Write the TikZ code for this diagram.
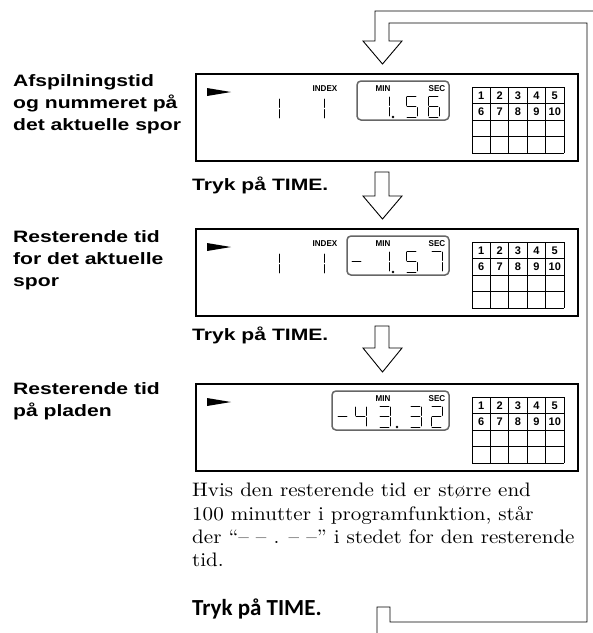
\documentclass[tikz,border=0pt]{standalone}
\usepackage{fontspec}
\newfontfamily\labelfont[FakeStretch=1.28]{Liberation Sans Bold}
\newfontfamily\tagfont[FakeStretch=0.95]{Liberation Sans Bold}
\newfontfamily\cellfont{Liberation Sans Bold}
\newfontfamily\tryfont{Carlito Bold}
\newfontfamily\notefont[Extension=.otf, Ligatures=TeX, FakeStretch=1.08]{lmroman10-regular}
\usetikzlibrary{positioning}

% segments of one LCD digit (local units, y up)
\tikzset{
  segline/.style={line width=1pt, line cap=round},
  seg a/.pic={\draw[segline] (1.2,21) -- (9.8,21);},
  seg b/.pic={\draw[segline] (11,19.8) -- (11,11.7);},
  seg c/.pic={\draw[segline] (11,9.3) -- (11,1.2);},
  seg d/.pic={\draw[segline] (1.2,0) -- (9.8,0);},
  seg e/.pic={\draw[segline] (0,9.3) -- (0,1.2);},
  seg f/.pic={\draw[segline] (0,19.8) -- (0,11.7);},
  seg g/.pic={\draw[segline] (1.2,10.5) -- (9.8,10.5);}
}

% [yscale]{x}{bottom y}{segments}
\newcommand{\lcddigit}[4][1]{%
  \begin{scope}[shift={(#2,#3)}, x=1pt, y=1pt, yscale=#1, xslant=.18]
    \foreach \s in {#4} {\pic {seg \s};}
  \end{scope}}

% hollow down arrow: {shaft top}{head top}{tip}
\newcommand{\hollowarrow}[3]{%
  \draw[arrowline] (389,#1) -- (375,#1) -- (375,#2) -- (363,#2) -- (382.5,#3)
    -- (402,#2) -- (389,#2) -- cycle;}

\begin{document}
\begin{tikzpicture}[x=1pt, y=-1pt,
    lcdbox/.style={draw, line width=1.6pt, minimum width=382pt, minimum height=87pt,
      inner sep=0pt, anchor=north west},
    window/.style={draw=black!60, line width=1.5pt, rounded corners=4pt},
    gridline/.style={line width=0.8pt},
    arrowline/.style={line width=0.9pt, line join=miter},
    cell/.style={font=\cellfont\fontsize{11}{11}\selectfont, inner sep=0pt},
    tag/.style={font=\tagfont\fontsize{8.5}{8.5}\selectfont, inner sep=0pt},
    caption/.style={font=\labelfont\fontsize{16.5}{22}\selectfont, align=left,
      anchor=north west, inner sep=0pt},
    note/.style={font=\notefont\fontsize{19.5}{23.3}\selectfont, align=left,
      anchor=north west, inner sep=0pt}
]
\useasboundingbox (0,0) rectangle (593,633);

% the three displays
\foreach \t/\n in {73/1, 228/2, 383/3} {
  \node[lcdbox] (disp\n) at (195,\t) {};
  \fill (207,\t+15) -- (231,\t+19) -- (207,\t+23) -- cycle;
  \node[tag] (min\n) at (383,\t+16) {MIN};
  \node[tag] (sec\n) at (437,\t+16) {SEC};
  % track grid
  \foreach \i in {0,...,5}
    \draw[gridline] (472+18.4*\i,\t+14) -- (472+18.4*\i,\t+80);
  \foreach \j in {0,...,4}
    \draw[gridline] (472,\t+14+16.5*\j) -- (564,\t+14+16.5*\j);
  \foreach \k in {1,...,5} {
    \node[cell] (top\n-\k) at (462.8+18.4*\k,\t+22.5) {\k};
    \node[cell] (bot\n-\k) at (462.8+18.4*\k,\t+39) {\the\numexpr\k+5\relax};
  }
}

% display 1
\node[tag] (index1) at (325,89) {INDEX};
\lcddigit[1.3]{268}{119}{b,c}
\lcddigit[0.86]{313}{119}{b,c}
\draw[window] (357,81) rectangle (449,120);
\lcddigit{378}{117}{b,c}
\fill (393,117) circle (1.3);
\lcddigit{406}{117}{a,f,g,c,d}
\lcddigit{428}{117}{a,f,g,e,c,d}

% display 2
\node[tag] (index2) at (325,244) {INDEX};
\lcddigit[1.3]{268}{274}{b,c}
\lcddigit[0.86]{313}{274}{b,c}
\draw[window] (347,236) rectangle (449,275);
\lcddigit{351}{272}{g}
\lcddigit{378}{272}{b,c}
\fill (393,272) circle (1.3);
\lcddigit{406}{272}{a,f,g,c,d}
\lcddigit{431}{272}{a,b,c}

% display 3
\draw[window] (332,391) rectangle (449,430);
\lcddigit{337}{427}{g}
\lcddigit{355}{427}{f,g,b,c}
\lcddigit{379}{427}{a,b,g,c,d}
\fill (397,427) circle (1.3);
\lcddigit{410}{427}{a,b,g,c,d}
\lcddigit{431}{427}{a,b,g,e,d}

% labels
\node[caption] (play) at (13,74) {Afspilningstid\\og nummeret på\\det aktuelle spor};
\node[caption] (remtrack) at (13,230) {Resterende tid\\for det aktuelle\\spor};
\node[caption] (remdisc) at (13,382) {Resterende tid\\på pladen};
\node[caption] (press1) at (192,177) {Tryk på TIME.};
\node[caption] (press2) at (192,327) {Tryk på TIME.};
\node[note] (hint) at (192,483) {Hvis den resterende tid er større end\\
  100 minutter i programfunktion, står\\
  der ``-- -- . -- --'' i stedet for den resterende\\tid.};
\node[font=\tryfont\fontsize{23}{23}\selectfont, anchor=north west, inner sep=0pt]
  (press3) at (192,599) {Tryk på TIME.};

% arrows
\hollowarrow{172}{196}{219}
\hollowarrow{326}{348}{372}
\draw[arrowline] (593,11) -- (375,11) -- (375,41) -- (363,41) -- (382.5,64)
  -- (402,41) -- (389,41) -- (389,23) -- (587,23) -- (587,622) -- (390,622)
  -- (390,607) -- (377,607) -- (377,633);

\end{tikzpicture}
\end{document}
